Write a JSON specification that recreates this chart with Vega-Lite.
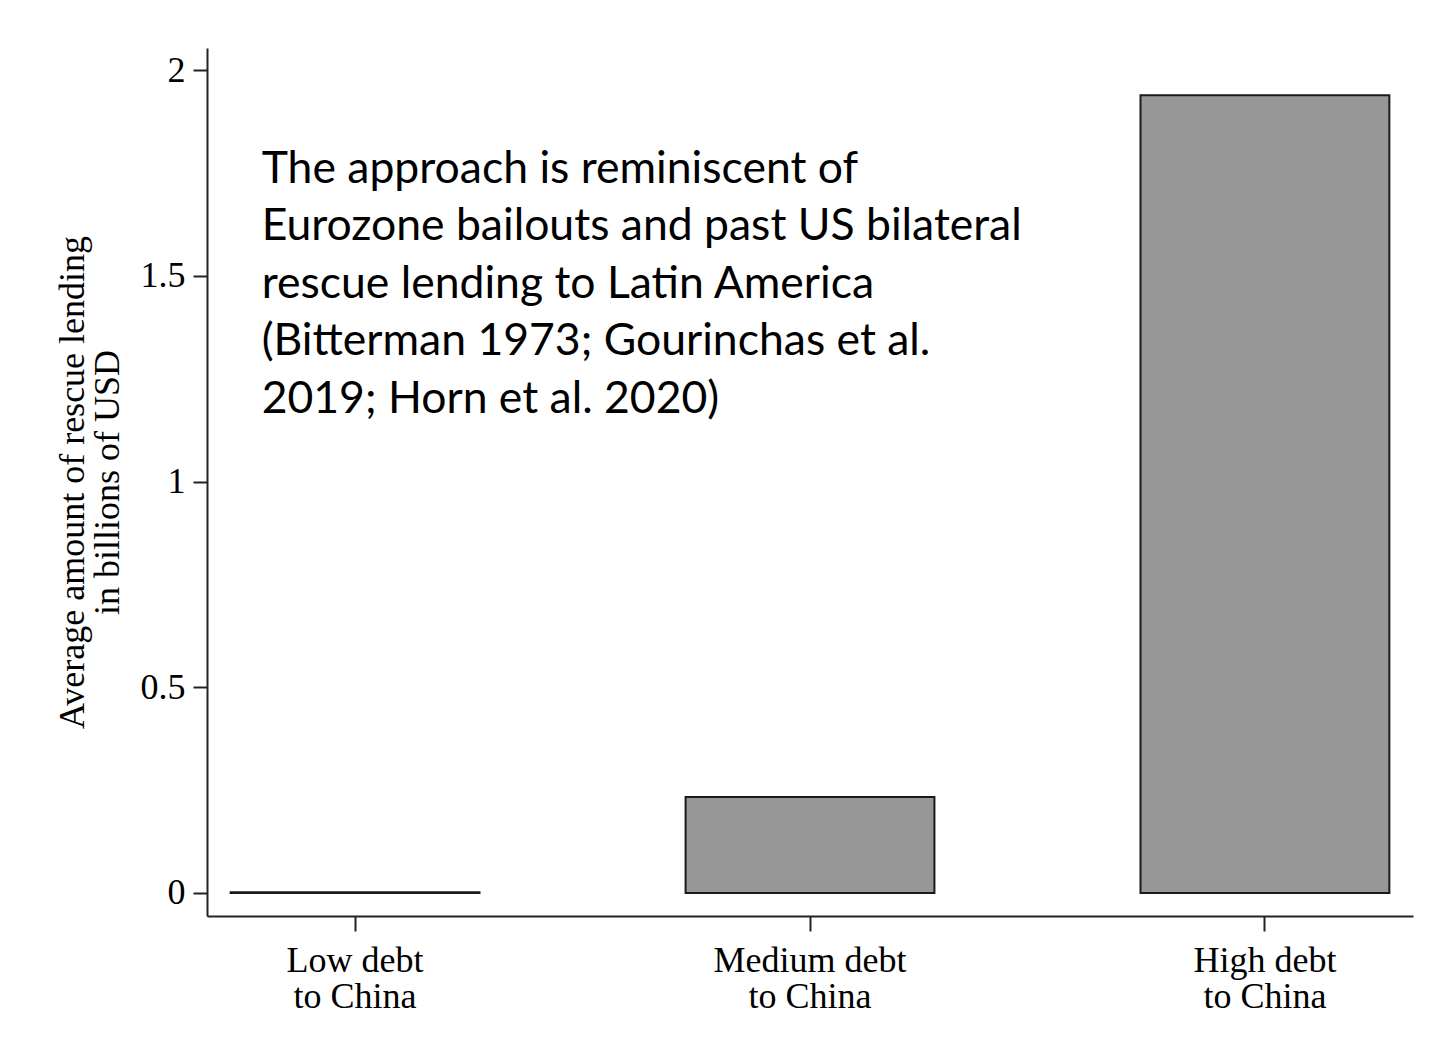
{
  "$schema": "https://vega.github.io/schema/vega-lite/v6.json",
  "width": 1206,
  "height": 868,
  "autosize": {"type": "none"},
  "padding": {"left": 207, "top": 48, "right": 26, "bottom": 138},
  "background": "white",
  "config": {
    "view": {"stroke": null},
    "axis": {"grid": false, "domainColor": "#222222", "tickColor": "#222222", "domainWidth": 2, "tickWidth": 2, "labelFont": "Liberation Serif", "titleFont": "Liberation Serif", "labelColor": "#000000", "titleColor": "#000000", "titleFontWeight": "normal"}
  },
  "data": {
    "values": [
      {"category": "Low debt to China", "value": 0.002},
      {"category": "Medium debt to China", "value": 0.233},
      {"category": "High debt to China", "value": 1.939}
    ]
  },
  "layer": [
    {
      "mark": {"type": "bar", "fill": "#979797", "stroke": "#1a1a1a", "strokeWidth": 2},
      "encoding": {
        "x": {
          "field": "category", "type": "nominal", "sort": null,
          "scale": {"paddingInner": 0.453, "paddingOuter": 0.052},
          "axis": {
            "title": null, "labelAngle": 0, "labelFontSize": 36, "labelLineHeight": 36,
            "labelLimit": 0, "labelOverlap": false,
            "tickSize": 15, "labelPadding": 12, "labelBaseline": "top",
            "labelExpr": "[replace(datum.label, ' to China', ''), 'to China']"
          }
        },
        "y": {
          "field": "value", "type": "quantitative",
          "scale": {"domain": [-0.056, 2.054], "nice": false, "zero": false},
          "axis": {
            "values": [0, 0.5, 1, 1.5, 2], "format": "~g",
            "title": ["Average amount of rescue lending", "in billions of USD"],
            "titleFontSize": 36, "titleLineHeight": 35, "titlePadding": 14,
            "labelFontSize": 36, "tickSize": 14, "labelPadding": 8
          }
        },
        "y2": {"datum": 0}
      }
    },
    {
      "data": {
        "values": [
          {"anchor": "Low debt to China", "ypos": 1.726, "note": "The approach is reminiscent of\nEurozone bailouts and past US bilateral\nrescue lending to Latin America\n(Bitterman 1973; Gourinchas et al.\n2019; Horn et al. 2020)"}
        ]
      },
      "mark": {"type": "text", "align": "left", "baseline": "alphabetic", "font": "Lato", "fontSize": 44.5, "lineHeight": 57.5, "lineBreak": "\n", "dx": 31, "color": "#000000"},
      "encoding": {
        "x": {"field": "anchor", "type": "nominal", "sort": null, "bandPosition": 0},
        "y": {"field": "ypos", "type": "quantitative"},
        "text": {"field": "note"}
      }
    }
  ]
}
